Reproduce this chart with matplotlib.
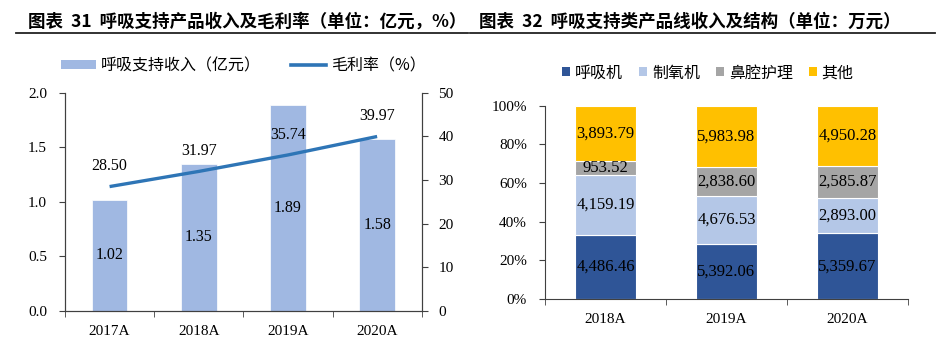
import matplotlib
matplotlib.use("Agg")
import matplotlib.pyplot as plt
from matplotlib.lines import Line2D
from matplotlib.patches import Patch
import numpy as np

plt.rcParams['font.family'] = ['Liberation Serif', 'Noto Sans CJK SC', 'DejaVu Sans']

# ---- data ----
years_left = ['2017A', '2018A', '2019A', '2020A']
revenue = [1.02, 1.35, 1.89, 1.58]          # 亿元
margin = [28.50, 31.97, 35.74, 39.97]        # %

years_right = ['2018A', '2019A', '2020A']
ventilator = [4486.46, 5392.06, 5359.67]
oxygen = [4159.19, 4676.53, 2893.00]
nasal = [953.52, 2838.60, 2585.87]
other = [3893.79, 5983.98, 4950.28]
series_names = ['呼吸机', '制氧机', '鼻腔护理', '其他']

left_ticks = [0.0, 0.5, 1.0, 1.5, 2.0]
right_ticks = [0, 10, 20, 30, 40, 50]
pct_ticks = [0, 20, 40, 60, 80, 100]

W, H = 936, 340
fig = plt.figure(figsize=(W / 100, H / 100), dpi=100)

spine_c = '#404040'
bar_c = '#A0B8E2'
line_c = '#2E75B6'
stack_colors = ['#2F5597', '#B4C7E7', '#A5A5A5', '#FFC000']
fs = 11

def fx(px):
    return px / W

def fy(py):
    return 1 - py / H

# ---- titles ----
title_font = dict(family=['Noto Sans CJK SC', 'DejaVu Sans'], fontweight='bold', fontsize=12.6)
fig.text(fx(28), fy(22), '图表  31  呼吸支持产品收入及毛利率（单位：亿元，%）', ha='left', va='center', **title_font)
fig.text(fx(479), fy(22), '图表  32  呼吸支持类产品线收入及结构（单位：万元）', ha='left', va='center', **title_font)
fig.add_artist(Line2D([fx(16), fx(468)], [fy(33), fy(33)], color='#222222', lw=1.3))
fig.add_artist(Line2D([fx(470), fx(935)], [fy(33), fy(33)], color='#222222', lw=1.3))

# ---- left chart ----
ax1 = fig.add_axes([fx(65), fy(311), fx(421.7) - fx(65), fy(92.7) - fy(311)])
x = np.arange(len(years_left))
bars = ax1.bar(x, revenue, width=0.4, color=bar_c, edgecolor='white', linewidth=0.5, zorder=2)
ax1.set_xlim(-0.5, len(years_left) - 0.5)
ax1.set_ylim(0, 2.0)
ax1.set_yticks(left_ticks)
ax1.set_yticklabels([f'{v:.1f}' for v in left_ticks], fontsize=fs)
ax1.set_xticks(x)
ax1.set_xticklabels(years_left, fontsize=fs)
ax1.set_xticks(np.arange(-0.5, len(years_left)), minor=True)
ax1.tick_params(axis='x', which='major', length=0, pad=10)
ax1.tick_params(axis='x', which='minor', length=4, color=spine_c, direction='out')
ax1.tick_params(axis='y', length=4, color=spine_c, direction='out', pad=9)
ax1.spines['top'].set_visible(False)
for s in ['left', 'bottom', 'right']:
    ax1.spines[s].set_color(spine_c)
for xi, v in zip(x, revenue):
    ax1.text(xi, v / 2, f'{v:.2f}', ha='center', va='center', fontsize=11.5, zorder=5)

ax2 = ax1.twinx()
ax2.plot(x, margin, color=line_c, lw=2.4, solid_capstyle='butt', zorder=4)
ax2.set_ylim(0, 50)
ax2.set_yticks(right_ticks)
ax2.set_yticklabels([str(v) for v in right_ticks], fontsize=fs)
ax2.tick_params(axis='y', length=4, color=spine_c, direction='out', pad=8)
ax2.spines['top'].set_visible(False)
for s in ['left', 'bottom', 'right']:
    ax2.spines[s].set_color(spine_c)
for xi, v in zip(x, margin):
    ax2.annotate(f'{v:.2f}', (xi, v), xytext=(0, 14.5), textcoords='offset points',
                 ha='center', va='center', fontsize=11.5)

h1 = [Patch(facecolor=bar_c), Line2D([0], [0], color=line_c, lw=2.6)]
fig.legend(h1, ['呼吸支持收入（亿元）', '毛利率（%）'], loc='center',
           bbox_to_anchor=(fx(243), fy(66)), ncol=2, frameon=False,
           handlelength=2.2, handleheight=0.5, handletextpad=0.3, columnspacing=1.9,
           prop={'family': ['Noto Sans CJK SC', 'DejaVu Sans'], 'size': 11.5})

# ---- right chart ----
ax3 = fig.add_axes([fx(545), fy(299), fx(908) - fx(545), fy(105.7) - fy(299)])
xr = np.arange(len(years_right))
data = np.array([ventilator, oxygen, nasal, other])
totals = data.sum(axis=0)
shares = data / totals * 100
bottom = np.zeros(len(years_right))
for i, name in enumerate(series_names):
    ax3.bar(xr, shares[i], bottom=bottom, width=0.51, color=stack_colors[i],
            edgecolor='white', linewidth=0.8, label=name, zorder=2)
    for j in range(len(years_right)):
        ax3.text(xr[j], bottom[j] + shares[i][j] / 2, f'{data[i][j]:,.2f}',
                 ha='center', va='center', fontsize=12, zorder=5)
    bottom += shares[i]
ax3.set_xlim(-0.5, len(years_right) - 0.5)
ax3.set_ylim(0, 100)
ax3.set_yticks(pct_ticks)
ax3.set_yticklabels([f'{v}%' for v in pct_ticks], fontsize=fs)
ax3.set_xticks(xr)
ax3.set_xticklabels(years_right, fontsize=fs)
ax3.set_xticks(np.arange(-0.5, len(years_right)), minor=True)
ax3.tick_params(axis='x', which='major', length=0, pad=10)
ax3.tick_params(axis='x', which='minor', length=4, color=spine_c, direction='out')
ax3.tick_params(axis='y', length=4, color=spine_c, direction='out', pad=9)
ax3.spines['top'].set_visible(False)
ax3.spines['right'].set_visible(False)
for s in ['left', 'bottom']:
    ax3.spines[s].set_color(spine_c)

h2 = [Patch(facecolor=c) for c in stack_colors]
fig.legend(h2, series_names, loc='center', bbox_to_anchor=(fx(708), fy(73)), ncol=4,
           frameon=False, handlelength=0.5, handleheight=0.5, handletextpad=0.3,
           columnspacing=1.0, prop={'family': ['Noto Sans CJK SC', 'DejaVu Sans'], 'size': 11.5})

fig.savefig('out.png', dpi=100)
